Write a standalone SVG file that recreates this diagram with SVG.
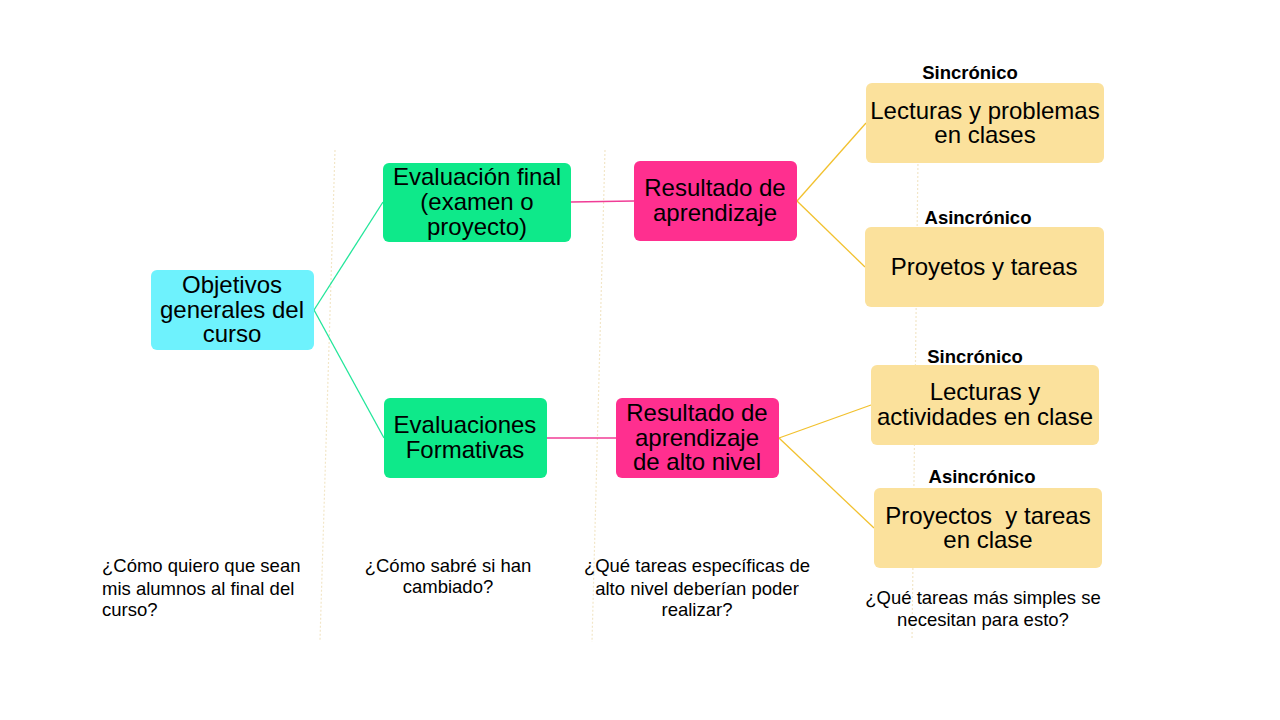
<svg xmlns="http://www.w3.org/2000/svg" width="1280" height="720" viewBox="0 0 1280 720">
<style>
.n{font-family:"Liberation Sans",Arial,sans-serif;font-size:24px;fill:#000;text-anchor:middle;white-space:pre}
.q{font-family:"Liberation Sans",Arial,sans-serif;font-size:18.5px;fill:#000}
.c{text-anchor:middle}
.b{font-family:"Liberation Sans",Arial,sans-serif;font-size:18.5px;font-weight:bold;fill:#000;text-anchor:middle}
.guide{stroke:#f2e6c8;stroke-width:1.2;stroke-dasharray:2 2;fill:none}
.cyan{fill:#6ef2fd}
.green{fill:#0ee98a}
.pink{fill:#ff2f8f}
.yellow{fill:#fbe19c}
.lg{stroke:#22e69a;stroke-width:1.3;fill:none}
.lp{stroke:#f03c96;stroke-width:1.3;fill:none}
.ly{stroke:#f2c12e;stroke-width:1.3;fill:none}
</style>
<rect width="1280" height="720" fill="#fff"/>
<g id="guides">
<line class="guide" x1="335" y1="150" x2="320" y2="640"/>
<line class="guide" x1="605" y1="150" x2="592" y2="642"/>
<line class="guide" x1="918" y1="160" x2="912" y2="640"/>
</g>
<g id="connectors">
<line class="lg" x1="314" y1="310" x2="383" y2="202"/>
<line class="lg" x1="314" y1="310" x2="384" y2="438"/>
<line class="lp" x1="571" y1="202" x2="634" y2="201"/>
<line class="lp" x1="547" y1="438" x2="616" y2="438"/>
<line class="ly" x1="797" y1="201" x2="866" y2="123"/>
<line class="ly" x1="797" y1="201" x2="865" y2="267"/>
<line class="ly" x1="779" y1="438" x2="871" y2="405"/>
<line class="ly" x1="779" y1="438" x2="874" y2="528"/>
</g>
<g id="objetivos">
<rect class="cyan" x="151" y="270" width="163" height="80" rx="6"/>
<text class="n" x="232" y="293">Objetivos</text>
<text class="n" x="232" y="318">generales del</text>
<text class="n" x="232" y="342">curso</text>
</g>
<g id="eval-final">
<rect class="green" x="383" y="163" width="188" height="79" rx="6"/>
<text class="n" x="477" y="185">Evaluación final</text>
<text class="n" x="477" y="210">(examen o</text>
<text class="n" x="477" y="235">proyecto)</text>
</g>
<g id="eval-formativas">
<rect class="green" x="384" y="398" width="163" height="80" rx="6"/>
<text class="n" x="465" y="433">Evaluaciones</text>
<text class="n" x="465" y="458">Formativas</text>
</g>
<g id="resultado">
<rect class="pink" x="634" y="161" width="163" height="80" rx="6"/>
<text class="n" x="715" y="196">Resultado de</text>
<text class="n" x="715" y="221">aprendizaje</text>
</g>
<g id="resultado-alto">
<rect class="pink" x="616" y="398" width="163" height="80" rx="6"/>
<text class="n" x="697" y="421">Resultado de</text>
<text class="n" x="697" y="446">aprendizaje</text>
<text class="n" x="697" y="470">de alto nivel</text>
</g>
<g id="lecturas-problemas">
<text class="b" x="970" y="79">Sincrónico</text>
<rect class="yellow" x="866" y="83" width="238" height="80" rx="6"/>
<text class="n" x="985" y="119">Lecturas y problemas</text>
<text class="n" x="985" y="143">en clases</text>
</g>
<g id="proyectos-tareas">
<text class="b" x="978" y="224">Asincrónico</text>
<rect class="yellow" x="865" y="227" width="239" height="80" rx="6"/>
<text class="n" x="984" y="275">Proyetos y tareas</text>
</g>
<g id="lecturas-actividades">
<text class="b" x="975" y="363">Sincrónico</text>
<rect class="yellow" x="871" y="365" width="228" height="80" rx="6"/>
<text class="n" x="985" y="400">Lecturas y</text>
<text class="n" x="985" y="425">actividades en clase</text>
</g>
<g id="proyectos-clase">
<text class="b" x="982" y="483">Asincrónico</text>
<rect class="yellow" x="874" y="488" width="228" height="80" rx="6"/>
<text class="n" x="988" y="524">Proyectos  y tareas</text>
<text class="n" x="988" y="548">en clase</text>
</g>
<g id="questions">
<text class="q" x="102" y="572">¿Cómo quiero que sean</text>
<text class="q" x="102" y="595">mis alumnos al final del</text>
<text class="q" x="102" y="616">curso?</text>
<text class="q c" x="448" y="572">¿Cómo sabré si han</text>
<text class="q c" x="448" y="593">cambiado?</text>
<text class="q c" x="697" y="572">¿Qué tareas específicas de</text>
<text class="q c" x="697" y="595">alto nivel deberían poder</text>
<text class="q c" x="697" y="616">realizar?</text>
<text class="q c" x="983" y="604">¿Qué tareas más simples se</text>
<text class="q c" x="983" y="626">necesitan para esto?</text>
</g>
</svg>
